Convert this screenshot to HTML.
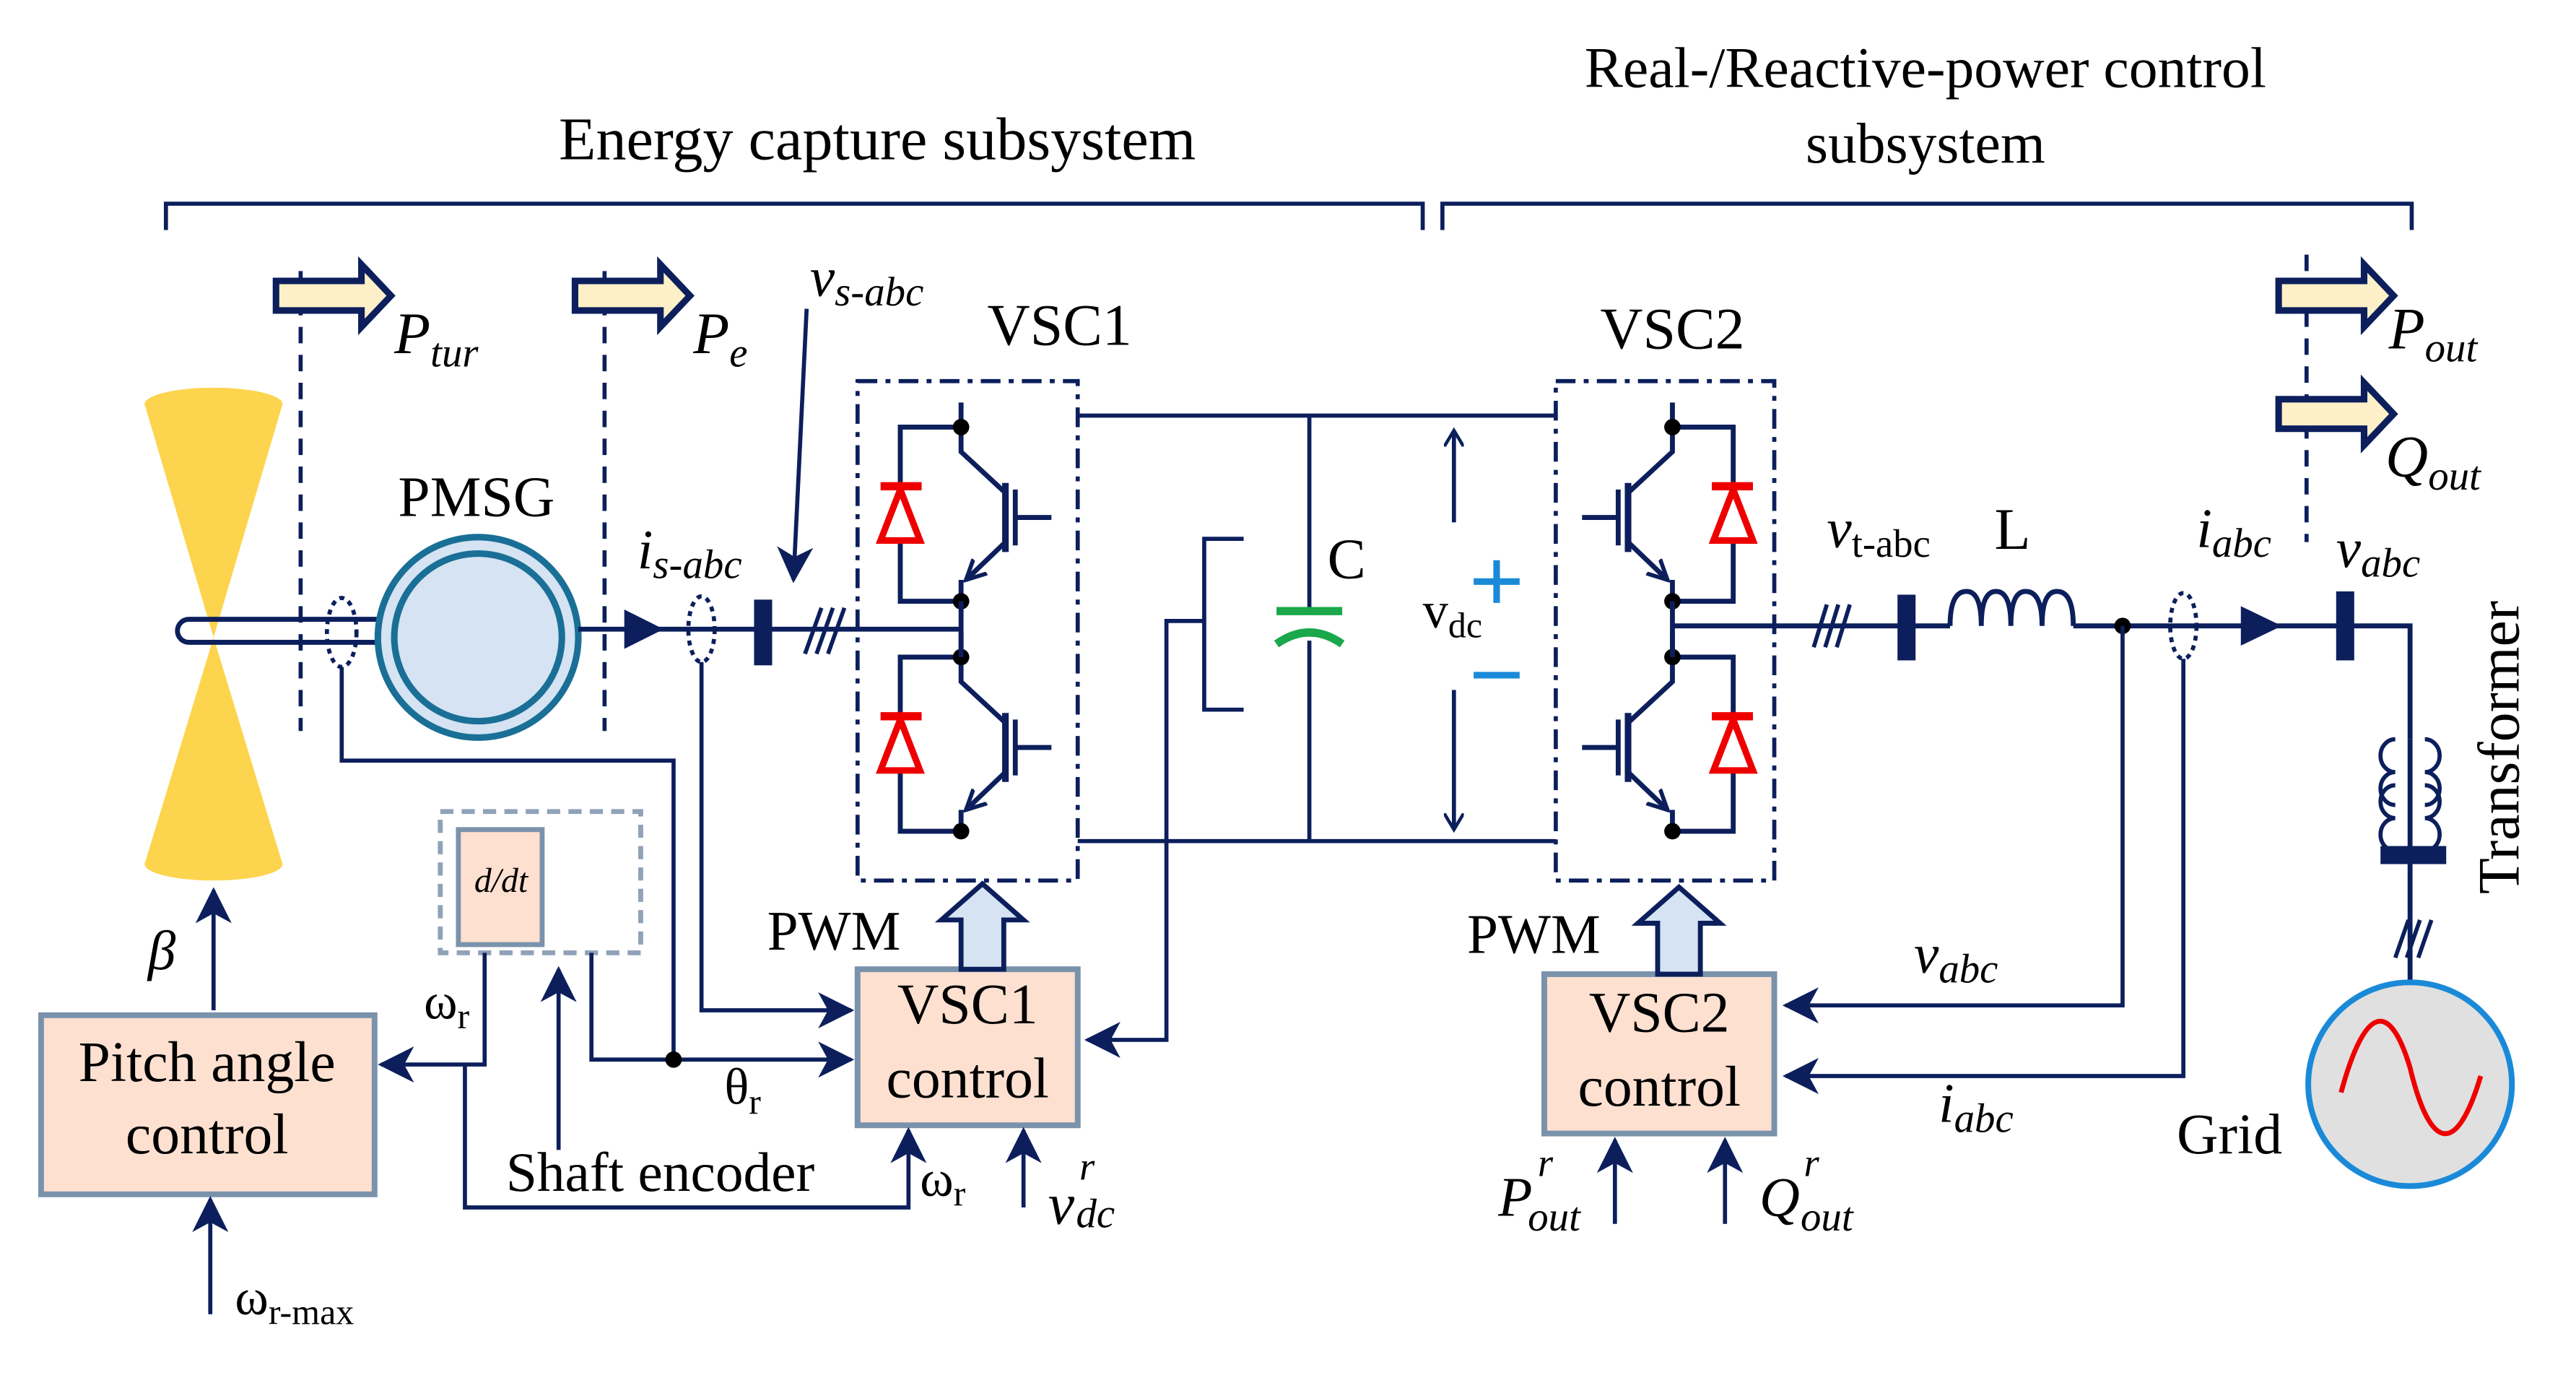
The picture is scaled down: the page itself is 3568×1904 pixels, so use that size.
<!DOCTYPE html>
<html><head><meta charset="utf-8"><style>
html,body{margin:0;padding:0;background:#fff}
svg{display:block}
text{font-family:"Liberation Serif",serif;fill:#000}
</style></head><body>
<svg width="3568" height="1904" viewBox="0 0 1568 837" preserveAspectRatio="none" xmlns="http://www.w3.org/2000/svg">
<defs>
<marker id="ah" markerWidth="12" markerHeight="12" refX="10" refY="6" orient="auto" markerUnits="userSpaceOnUse"><path d="M0,0 L10,6 L0,12" fill="none" stroke="#0c1f5c" stroke-width="2"/></marker>
<marker id="ae" markerWidth="14" markerHeight="14" refX="12" refY="7" orient="auto" markerUnits="userSpaceOnUse"><path d="M0,1 L12,7 L0,13" fill="none" stroke="#0c1f5c" stroke-width="2.5"/></marker>
<marker id="ab" markerWidth="22" markerHeight="22" refX="20" refY="11" orient="auto" markerUnits="userSpaceOnUse"><path d="M0,0 L22,11 L0,22 L6,11 z" fill="#0c1f5c"/></marker>
<g id="sw" stroke="#0c1f5c" stroke-width="3" fill="none">
<path d="M0,-15 V15 L27,40"/>
<path d="M27,70 L3,93" marker-end="url(#ae)"/>
<path d="M0,93 V106"/>
<path d="M27,34 V76" stroke-width="4"/>
<path d="M33,38 V72 M33,55 H55"/>
<path d="M0,0 H-37 V36 M-37,70 V106 H0"/>
<path d="M-49,36 H-24" stroke="#e00" stroke-width="5"/>
<path d="M-37,38 L-49,69 H-25 z" stroke="#e00" stroke-width="4"/>
<circle cx="0" cy="0" r="5" fill="#000" stroke="none"/>
<circle cx="0" cy="106" r="5" fill="#000" stroke="none"/>
</g>
<g id="parr"><path d="M0,-9 H52 V-19 L70,0 L52,19 V9 H0 z" fill="#fdf0c8" stroke="#0c1f5c" stroke-width="4"/></g>
</defs>

<text x="534" y="97" font-size="37" text-anchor="middle">Energy capture subsystem</text>
<text x="1172" y="53" font-size="35" text-anchor="middle">Real-/Reactive-power control</text>
<text x="1172" y="99" font-size="35" text-anchor="middle">subsystem</text>
<path d="M101,140 V124 H866 V140 M878,140 V124 H1468 V140" stroke="#0c1f5c" stroke-width="2.5" fill="none"/>

<g stroke="#0c1f5c" stroke-width="2.5" stroke-dasharray="10,7" fill="none">
<path d="M183,165 V445 M368,165 V445 M1404,155 V330"/>
</g>
<use href="#parr" x="168" y="180"/>
<use href="#parr" x="350" y="180"/>
<use href="#parr" x="1387" y="180"/>
<use href="#parr" x="1387" y="252"/>
<text x="240" y="215" font-size="36" font-style="italic">P<tspan font-size="25" dy="8">tur</tspan></text>
<text x="422" y="215" font-size="36" font-style="italic">P<tspan font-size="25" dy="8">e</tspan></text>
<text x="1454" y="212" font-size="36" font-style="italic">P<tspan font-size="25" dy="8">out</tspan></text>
<text x="1452" y="290" font-size="36" font-style="italic">Q<tspan font-size="25" dy="8">out</tspan></text>

<!-- turbine -->
<path d="M88,246 L172,246 L130,388 z M88,526 L172,526 L130,388 z" fill="#fdd44e"/>
<ellipse cx="130" cy="246" rx="42" ry="10" fill="#fdd44e"/>
<ellipse cx="130" cy="526" rx="42" ry="10" fill="#fdd44e"/>
<path d="M232,377 H115 A7,7 0 0 0 115,391 H232" stroke="#0c1f5c" stroke-width="3" fill="none"/>
<ellipse cx="208" cy="385" rx="9" ry="21" fill="none" stroke="#0c1f5c" stroke-width="2.5" stroke-dasharray="3,3"/>
<circle cx="291" cy="388" r="61" fill="#d5e3f3" stroke="#1a6f96" stroke-width="4"/>
<circle cx="291" cy="388" r="51" fill="none" stroke="#1a6f96" stroke-width="4"/>
<text x="290" y="314" font-size="35" text-anchor="middle">PMSG</text>

<!-- VSC1 AC side -->
<path d="M352,383 H585" stroke="#0c1f5c" stroke-width="3"/>
<path d="M380,371 L404,383 L380,395 z" fill="#0c1f5c"/>
<ellipse cx="427" cy="383" rx="8" ry="20" fill="none" stroke="#0c1f5c" stroke-width="2.5" stroke-dasharray="3,3"/>
<rect x="459" y="365" width="11" height="40" fill="#0c1f5c"/>
<path d="M490,398 L500,370 M497,398 L507,370 M504,398 L514,370" stroke="#0c1f5c" stroke-width="2.5"/>
<path d="M491,188 L483,353" stroke="#0c1f5c" stroke-width="2.5" marker-end="url(#ab)"/>
<text x="493" y="180" font-size="34" font-style="italic">v<tspan font-size="25" dy="6">s-abc</tspan></text>
<text x="388" y="346" font-size="34" font-style="italic">i<tspan font-size="25" dy="6">s-abc</tspan></text>

<!-- VSC1 -->
<rect x="522" y="232" width="134" height="304" fill="none" stroke="#0c1f5c" stroke-width="2.5" stroke-dasharray="12,5,3,5"/>
<text x="645" y="210" font-size="36" text-anchor="middle">VSC1</text>
<use href="#sw" x="585" y="260"/>
<use href="#sw" x="585" y="400"/>
<path d="M585,366 V400" stroke="#0c1f5c" stroke-width="3"/>

<!-- DC link -->
<path d="M656,253 H947 M656,512 H947 M797,253 V370 M797,390 V512" stroke="#0c1f5c" stroke-width="2.5" fill="none"/>
<path d="M777,372 H817" stroke="#1aa84a" stroke-width="5"/>
<path d="M777,392 Q797,378 817,392" stroke="#1aa84a" stroke-width="5" fill="none"/>
<text x="808" y="352" font-size="35">C</text>
<path d="M757,328 H733 V432 H757 M733,378 H710 V633 H662" stroke="#0c1f5c" stroke-width="2.5" fill="none" marker-end="url(#ab)"/>
<path d="M885,318 V262" stroke="#0c1f5c" stroke-width="2.5" marker-end="url(#ah)"/>
<path d="M885,420 V505" stroke="#0c1f5c" stroke-width="2.5" marker-end="url(#ah)"/>
<text x="866" y="382" font-size="31">v<tspan font-size="22" dy="6">dc</tspan></text>
<path d="M897,354 H925 M911,341 V367 M897,411 H925" stroke="#1a8ad8" stroke-width="4"/>

<!-- VSC2 -->
<rect x="947" y="232" width="133" height="304" fill="none" stroke="#0c1f5c" stroke-width="2.5" stroke-dasharray="12,5,3,5"/>
<text x="1018" y="212" font-size="36" text-anchor="middle">VSC2</text>
<use href="#sw" transform="translate(1018,260) scale(-1,1)"/>
<use href="#sw" transform="translate(1018,400) scale(-1,1)"/>
<path d="M1018,366 V400" stroke="#0c1f5c" stroke-width="3"/>
<path d="M1018,381 H1187 M1262,381 H1467 V450" stroke="#0c1f5c" stroke-width="3" fill="none"/>
<path d="M1104,394 L1112,368 M1111,394 L1119,368 M1118,394 L1126,368" stroke="#0c1f5c" stroke-width="2.5"/>
<rect x="1155" y="362" width="11" height="40" fill="#0c1f5c"/>
<path d="M1187,381 Q1187,360 1197,360 Q1206,360 1206,381 Q1206,360 1215,360 Q1224,360 1224,381 Q1224,360 1233,360 Q1243,360 1243,381 Q1243,360 1252,360 Q1262,360 1262,381" stroke="#0c1f5c" stroke-width="3" fill="none"/>
<text x="1112" y="333" font-size="34" font-style="italic">v<tspan font-size="24" dy="6" font-style="normal">t-abc</tspan></text>
<text x="1214" y="334" font-size="36">L</text>
<circle cx="1292" cy="381" r="5" fill="#000"/>
<ellipse cx="1329" cy="381" rx="8" ry="20" fill="none" stroke="#0c1f5c" stroke-width="2.5" stroke-dasharray="3,3"/>
<path d="M1364,369 L1389,381 L1364,393 z" fill="#0c1f5c"/>
<rect x="1422" y="360" width="11" height="42" fill="#0c1f5c"/>
<text x="1337" y="333" font-size="34" font-style="italic">i<tspan font-size="25" dy="6">abc</tspan></text>
<text x="1422" y="345" font-size="34" font-style="italic">v<tspan font-size="25" dy="6">abc</tspan></text>
<!-- transformer -->
<g stroke="#0c1f5c" stroke-width="3" fill="none">
<path d="M1467,450 V600"/>
<path d="M1458,450 A9,10 0 1 0 1458,470 A9,10 0 1 0 1458,490 M1476,450 A9,10 0 1 1 1476,470 A9,10 0 1 1 1476,490" stroke-width="2.5"/>
<path d="M1458,478 A9,10 0 1 0 1458,498 A9,10 0 1 0 1458,518 M1476,478 A9,10 0 1 1 1476,498 A9,10 0 1 1 1476,518" stroke-width="2.5"/>
<path d="M1458,583 L1466,560 M1465,583 L1473,560 M1472,583 L1480,560" stroke-width="2.5"/>
</g>
<rect x="1449" y="515" width="40" height="11" fill="#0c1f5c"/>
<text transform="translate(1533,455) rotate(-90)" font-size="36" text-anchor="middle">Transformer</text>
<circle cx="1467" cy="660" r="62" fill="#e0e0e0" stroke="#1a8ad8" stroke-width="3.5"/>
<path d="M1425,665 C1440,610 1455,610 1467,650 C1479,700 1495,705 1510,655" stroke="#e00" stroke-width="3" fill="none"/>
<text x="1325" y="702" font-size="35">Grid</text>

<!-- control boxes -->
<g fill="#fde0d0" stroke="#7a93ab" stroke-width="3.5">
<rect x="522" y="590" width="134" height="95"/>
<rect x="940" y="593" width="140" height="97"/>
<rect x="25" y="618" width="203" height="109"/>
</g>
<text x="589" y="623" font-size="35" text-anchor="middle">VSC1</text>
<text x="589" y="668" font-size="35" text-anchor="middle">control</text>
<text x="1010" y="628" font-size="35" text-anchor="middle">VSC2</text>
<text x="1010" y="673" font-size="35" text-anchor="middle">control</text>
<text x="126" y="658" font-size="35" text-anchor="middle">Pitch angle</text>
<text x="126" y="702" font-size="35" text-anchor="middle">control</text>
<rect x="268" y="494" width="122" height="86" fill="none" stroke="#8fa2b8" stroke-width="3" stroke-dasharray="8,5"/>
<rect x="279" y="505" width="51" height="70" fill="#fde0d0" stroke="#7a93ab" stroke-width="3"/>
<text x="305" y="543" font-size="21" font-style="italic" text-anchor="middle">d/dt</text>

<!-- PWM arrows -->
<path d="M585,590 V560 H573 L598,538 L623,560 H611 V590 z" fill="#d5e3f3" stroke="#0c1f5c" stroke-width="3"/>
<path d="M1009,593 V562 H997 L1022,540 L1047,562 H1035 V593 z" fill="#d5e3f3" stroke="#0c1f5c" stroke-width="3"/>
<text x="467" y="578" font-size="34">PWM</text>
<text x="893" y="580" font-size="34">PWM</text>

<!-- signal lines -->
<g stroke="#0c1f5c" stroke-width="2.5" fill="none">
<path d="M208,406 V463 H410 V645"/>
<path d="M427,403 V615 H518" marker-end="url(#ab)"/>
<path d="M360,580 V645 H518" marker-end="url(#ab)"/>
<path d="M295,580 V648 H232" marker-end="url(#ab)"/>
<path d="M283,648 V735 H553 V688" marker-end="url(#ab)"/>
<path d="M340,700 V590" marker-end="url(#ab)"/>
<path d="M623,735 V688" marker-end="url(#ab)"/>
<path d="M130,615 V542" marker-end="url(#ab)"/>
<path d="M128,800 V730" marker-end="url(#ab)"/>
<path d="M1292,381 V612 H1087" marker-end="url(#ab)"/>
<path d="M1329,401 V655 H1087" marker-end="url(#ab)"/>
<path d="M983,745 V694" marker-end="url(#ab)"/>
<path d="M1050,745 V694" marker-end="url(#ab)"/>
</g>
<circle cx="410" cy="645" r="5" fill="#000"/>
<text x="258" y="620" font-size="31">ω<tspan font-size="22" dy="6">r</tspan></text>
<text x="441" y="672" font-size="31">θ<tspan font-size="22" dy="6">r</tspan></text>
<text x="308" y="725" font-size="34">Shaft encoder</text>
<text x="560" y="728" font-size="31">ω<tspan font-size="22" dy="6">r</tspan></text>
<text x="638" y="745" font-size="36" font-style="italic">v</text>
<text x="657" y="718" font-size="24" font-style="italic">r</text>
<text x="655" y="747" font-size="25" font-style="italic">dc</text>
<text x="90" y="590" font-size="34" font-style="italic">β</text>
<text x="143" y="800" font-size="31">ω<tspan font-size="22" dy="6">r-max</tspan></text>
<text x="1165" y="592" font-size="34" font-style="italic">v<tspan font-size="25" dy="6">abc</tspan></text>
<text x="1180" y="683" font-size="34" font-style="italic">i<tspan font-size="25" dy="6">abc</tspan></text>
<text x="912" y="740" font-size="34" font-style="italic">P</text>
<text x="936" y="716" font-size="24" font-style="italic">r</text>
<text x="930" y="749" font-size="25" font-style="italic">out</text>
<text x="1071" y="740" font-size="34" font-style="italic">Q</text>
<text x="1098" y="716" font-size="24" font-style="italic">r</text>
<text x="1096" y="749" font-size="25" font-style="italic">out</text>
</svg>
</body></html>
